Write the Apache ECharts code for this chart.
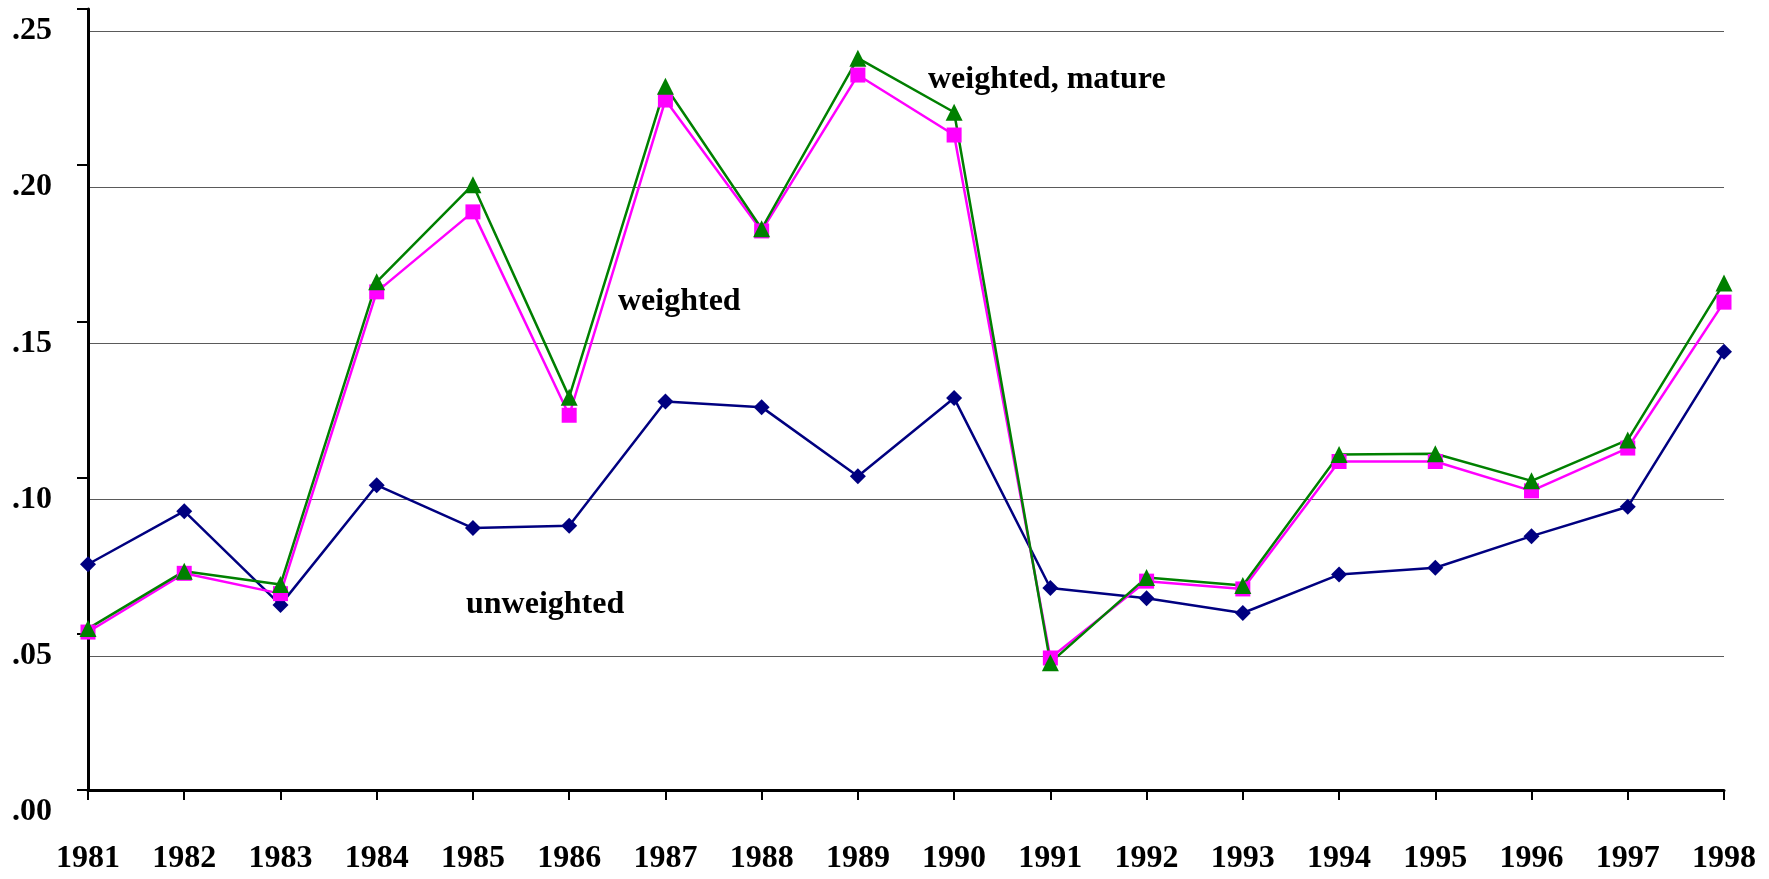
<!DOCTYPE html>
<html>
<head>
<meta charset="utf-8">
<title>weighted / unweighted</title>
<script src="https://cdn.jsdelivr.net/npm/echarts@6/dist/echarts.min.js"></script>
<style>
    html, body { margin: 0; padding: 0; background: #fff; }
    #chart { width: 1769px; height: 879px; }
</style>
</head>
<body>
<div id="chart"></div>
<script>
// 年份（横轴）
const years = ['1981','1982','1983','1984','1985','1986','1987','1988','1989','1990',
               '1991','1992','1993','1994','1995','1996','1997','1998'];

// 三条序列，数值从原图读出（估计值）
const unweighted = [0.0793, 0.0963, 0.0663, 0.1046, 0.0909, 0.0916, 0.1314, 0.1296, 0.1075,
                    0.1325, 0.0717, 0.0684, 0.0637, 0.0760, 0.0782, 0.0883, 0.0977, 0.1473];
const weighted = [0.0576, 0.0764, 0.0699, 0.1665, 0.1921, 0.1270, 0.2279, 0.1860, 0.2359,
                  0.2167, 0.0493, 0.0739, 0.0714, 0.1122, 0.1122, 0.1028, 0.1165, 0.1632];
const weightedMature = [0.0587, 0.0771, 0.0728, 0.1697, 0.2008, 0.1328, 0.2323, 0.1867, 0.2413,
                        0.2240, 0.0478, 0.0751, 0.0725, 0.1144, 0.1147, 0.1060, 0.1191, 0.1693];

// 纵轴刻度
const yTicks = [0, 0.05, 0.10, 0.15, 0.20, 0.25];

const FONT = '"Liberation Serif", "Times New Roman", serif';

const chart = echarts.init(document.getElementById('chart'));

// 两个 grid：grid0 放数据、网格线和纵轴文字；grid1 只画坐标轴线和刻度（原图刻度与网格线有偏移）
const option = {
    animation: false,
    backgroundColor: '#fff',
    grid: [
        { left: 88, right: 45, top: 31, bottom: 67 },
        { left: 88, right: 45, top: 9, bottom: 89 }
    ],
    xAxis: [
        { gridIndex: 0, type: 'category', data: years, boundaryGap: false, show: false },
        {
            gridIndex: 1, type: 'category', data: years, boundaryGap: false,
            axisLine: { lineStyle: { color: '#000', width: 3 } },
            axisTick: { length: 10, lineStyle: { color: '#000', width: 2 } },
            axisLabel: { margin: 53, color: '#000', fontFamily: FONT, fontWeight: 'bold', fontSize: 32 },
            splitLine: { show: false }
        }
    ],
    yAxis: [
        {
            gridIndex: 0, type: 'value', min: 0, max: 0.25, interval: 0.05,
            axisLine: { show: false },
            axisTick: { show: false },
            axisLabel: {
                margin: 36, color: '#000', fontFamily: FONT, fontWeight: 'bold', fontSize: 32,
                customValues: yTicks,
                formatter: v => v.toFixed(2).replace(/^0/, '')
            },
            splitLine: { show: true, showMinLine: false, lineStyle: { color: '#5a5a5a', width: 1.2 } }
        },
        {
            gridIndex: 1, type: 'value', min: 0, max: 0.25, interval: 0.05,
            axisLine: { show: true, lineStyle: { color: '#000', width: 3 } },
            axisTick: { show: true, length: 11, lineStyle: { color: '#000', width: 2 } },
            axisLabel: { show: false },
            splitLine: { show: false }
        }
    ],
    series: [
        {
            name: 'unweighted', type: 'line', xAxisIndex: 0, yAxisIndex: 0, data: unweighted,
            symbol: 'diamond', symbolSize: 16, clip: false,
            lineStyle: { color: '#000080', width: 2.5 }, itemStyle: { color: '#000080' }
        },
        {
            name: 'weighted', type: 'line', xAxisIndex: 0, yAxisIndex: 0, data: weighted,
            symbol: 'rect', symbolSize: 15, clip: false,
            lineStyle: { color: '#ff00ff', width: 2.5 }, itemStyle: { color: '#ff00ff' }
        },
        {
            name: 'weighted, mature', type: 'line', xAxisIndex: 0, yAxisIndex: 0, data: weightedMature,
            symbol: 'triangle', symbolSize: 17, clip: false,
            lineStyle: { color: '#008000', width: 2.5 }, itemStyle: { color: '#008000' }
        }
    ],
    // 线旁的文字说明
    graphic: [
        { type: 'text', x: 928, y: 80, style: { text: 'weighted, mature', fill: '#000', font: 'bold 32px ' + FONT, verticalAlign: 'middle' } },
        { type: 'text', x: 618, y: 302, style: { text: 'weighted', fill: '#000', font: 'bold 32px ' + FONT, verticalAlign: 'middle' } },
        { type: 'text', x: 466, y: 605, style: { text: 'unweighted', fill: '#000', font: 'bold 32px ' + FONT, verticalAlign: 'middle' } }
    ]
};

chart.setOption(option);
</script>
</body>
</html>
